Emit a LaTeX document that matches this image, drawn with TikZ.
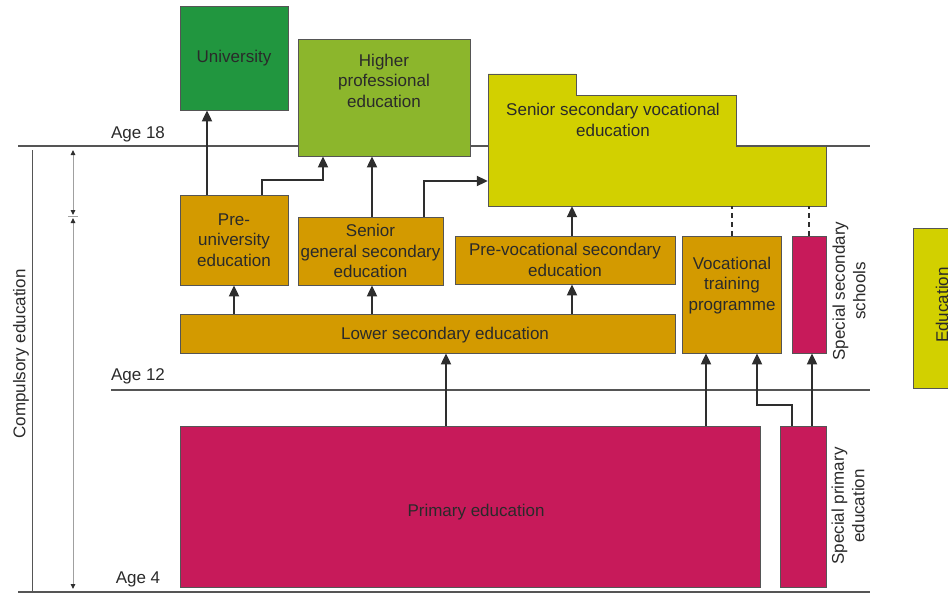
\documentclass[tikz,border=0pt]{standalone}
\usepackage{fontspec}
\setmainfont{Liberation Sans}
\usetikzlibrary{arrows.meta}

\definecolor{unigreen}{HTML}{21963F}
\definecolor{hpegreen}{HTML}{8CB62C}
\definecolor{vocyellow}{HTML}{D2D000}
\definecolor{secorange}{HTML}{D39A00}
\definecolor{primred}{HTML}{C71A5A}
\definecolor{linegray}{HTML}{555555}
\definecolor{textgray}{HTML}{2A2A2A}
\definecolor{arrowgray}{HTML}{2E2E2E}
\definecolor{rulergray}{HTML}{A0A0A0}

\begin{document}
\begin{tikzpicture}[x=1pt,y=-1pt,font=\fontsize{17}{20.5}\selectfont,>={Triangle[length=11pt,width=10pt]}]
      \tikzstyle{box}=[rectangle,draw=linegray,line width=0.8pt,inner sep=0pt,align=center,text=textgray]
      \tikzstyle{lbl}=[inner sep=0pt,align=center,text=textgray]
      \tikzstyle{ageline}=[draw=linegray,line width=1.4pt]
      \tikzstyle{arr}=[->,draw=arrowgray,line width=2pt]
      \tikzstyle{link}=[draw=arrowgray,line width=2pt,dash pattern=on 5pt off 4pt]
      \tikzstyle{ruler}=[draw=rulergray,line width=1pt,>={Triangle[length=5pt,width=4.5pt,color=arrowgray]}]
      \useasboundingbox (0,0) rectangle (948,594);

      % age lines
      \coordinate (a18l) at (18,146);  \coordinate (a18r) at (870,146);
      \coordinate (a12l) at (111,390); \coordinate (a12r) at (870,390);
      \coordinate (a4l) at (18,592);   \coordinate (a4r) at (870,592);
      \draw[ageline] (a18l) -- (a18r);
      \draw[ageline] (a12l) -- (a12r);
      \draw[ageline] (a4l) -- (a4r);
      \node[lbl] (age18) at (138,134) {Age 18};
      \node[lbl] (age12) at (138,376) {Age 12};
      \node[lbl] (age4) at (138,579) {Age 4};

      % compulsory span
      \coordinate (cl1) at (32,150); \coordinate (cl2) at (32,592);
      \draw[draw=linegray,line width=1pt] (cl1) -- (cl2);
      \node[lbl,rotate=90] (compulsory) at (21,354) {Compulsory education};
      \coordinate (r1) at (73,150); \coordinate (r2) at (73,215);
      \coordinate (r3) at (73,218); \coordinate (r4) at (73,589);
      \coordinate (t1) at (68,216.5); \coordinate (t2) at (78,216.5);
      \draw[ruler,<->] (r1) -- (r2);
      \draw[ruler,<->] (r3) -- (r4);
      \draw[ruler] (t1) -- (t2);

      % higher levels
      \node[box,fill=unigreen,minimum width=108,minimum height=104] (uni) at (234,58) {University};
      \node[box,fill=hpegreen,minimum width=172,minimum height=117] (hpe) at (384,97.5) {};
      \node[lbl] (hpetext) at (384,80.5) {Higher\\professional\\education};
      \node[inner sep=0pt,minimum width=338,minimum height=132] (ssv) at (657,140) {};
      \filldraw[fill=vocyellow,draw=linegray,line width=0.8pt] (488,74) -- (576,74) -- (576,95) -- (736,95)
        -- (736,146) -- (826,146) -- (826,206) -- (488,206) -- cycle;
      \node[lbl] (ssvtext) at (613,120) {Senior secondary vocational\\education};

      % secondary
      \node[box,fill=secorange,minimum width=108,minimum height=90] (preuni) at (234,240) {Pre-\\university\\education};
      \node[box,fill=secorange,minimum width=145,minimum height=68] (sgs) at (370.5,251) {Senior\\general secondary\\education};
      \node[box,fill=secorange,minimum width=220,minimum height=48] (prevoc) at (565,260) {Pre-vocational secondary\\education};
      \node[box,fill=secorange,minimum width=99,minimum height=117] (voc) at (732,294.5) {};
      \node[lbl] (voctext) at (732,285.5) {Vocational\\training\\programme};
      \node[box,fill=primred,minimum width=34,minimum height=117] (sss) at (809,294.5) {};
      \node[lbl,rotate=90] (ssstext) at (849,291) {Special secondary\\schools};
      \node[box,fill=secorange,minimum width=495,minimum height=39] (lowsec) at (427.5,333.5) {};
      \node[lbl] (lowsectext) at (445,335) {Lower secondary education};

      % primary
      \node[box,fill=primred,minimum width=580,minimum height=161] (prim) at (470,506.5) {};
      \node[lbl] (primtext) at (476,512) {Primary education};
      \node[box,fill=primred,minimum width=46,minimum height=161] (spe) at (803,506.5) {};
      \node[lbl,rotate=90] (spetext) at (848,506) {Special primary\\education};

      % legend
      \node[box,fill=vocyellow,minimum width=40,minimum height=160] (edu) at (933,308) {};
      \node[lbl,rotate=90] (edutext) at (942,305) {Education};

      % routes
      \draw[arr] ([xshift=-27]preuni.north) -- ([xshift=-27]uni.south);
      \draw[arr] ([xshift=28]preuni.north) -- ++(0,-15) -| ([xshift=-61]hpe.south);
      \draw[arr] ([xshift=1.5]sgs.north) -- ([xshift=1.5]sgs.north |- hpe.south);
      \draw[arr] ([xshift=53.5]sgs.north) |- ([yshift=-41]ssv.west);
      \draw[arr] ([xshift=7]prevoc.north) -- ([xshift=7]prevoc.north |- ssv.south);
      \draw[arr] (preuni.south |- lowsec.north) -- (preuni.south);
      \draw[arr] ([xshift=1.5]sgs.south |- lowsec.north) -- ([xshift=1.5]sgs.south);
      \draw[arr] ([xshift=7]prevoc.south |- lowsec.north) -- ([xshift=7]prevoc.south);
      \draw[arr] ([xshift=-24]prim.north) -- ([xshift=-24]prim.north |- lowsec.south);
      \draw[arr] ([xshift=-26]voc.south |- prim.north) -- ([xshift=-26]voc.south);
      \draw[arr] ([xshift=-11]spe.north) -- ++(0,-21) -| ([xshift=25]voc.south);
      \draw[arr] ([xshift=3]sss.south |- spe.north) -- ([xshift=3]sss.south);
      \draw[link] (voc.north) -- (voc.north |- ssv.south);
      \draw[link] (sss.north) -- (sss.north |- ssv.south);
\end{tikzpicture}
\end{document}
